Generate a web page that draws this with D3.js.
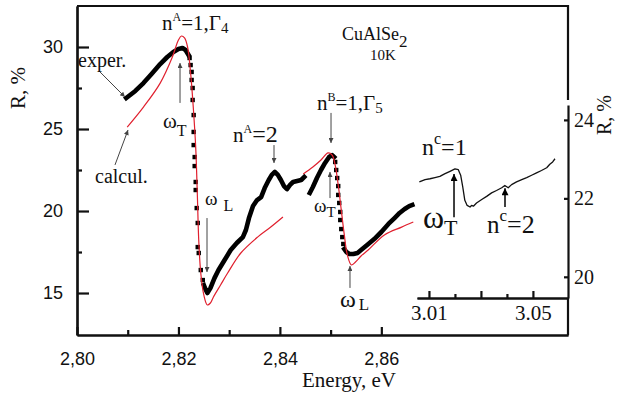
<!DOCTYPE html>
<html>
<head>
<meta charset="utf-8">
<script src="https://cdn.jsdelivr.net/npm/d3@7"></script>
<style>
	body { margin: 0; background: #fff; }
	svg { display: block; }
	.serif { font-family: 'Liberation Serif', 'Times New Roman', serif; fill: #111; }
	.sans { font-family: 'Liberation Sans', Arial, sans-serif; fill: #111; }
</style>
</head>
<body>
<div id="chart"></div>
<script>
// Experimental reflectance, [energy eV, R %]
const expRise = [[2.8097, 26.89], [2.8115, 27.32], [2.8131, 27.8], [2.8147, 28.35], [2.8164, 28.96], [2.8178, 29.39],
	[2.819, 29.7], [2.82, 29.88], [2.8208, 29.94], [2.8214, 29.82], [2.822, 29.51]];
const expDrop1 = [[2.8222, 29.33], [2.8224, 28.9], [2.8226, 28.48], [2.8226, 27.99], [2.8228, 27.5], [2.8228, 26.77],
	[2.823, 25.85], [2.823, 24.82], [2.823, 24.02], [2.8232, 23.29], [2.8232, 22.74], [2.8234, 21.77], [2.8234, 21.28],
	[2.8236, 20.18], [2.8238, 19.27], [2.8238, 17.8], [2.824, 17.44], [2.8244, 16.4], [2.8248, 15.79]];
const expMid = [[2.825, 15.49], [2.8254, 15.18], [2.8257, 15.0], [2.8263, 15.3], [2.8271, 15.91], [2.8279, 16.4],
	[2.8291, 17.01], [2.8303, 17.62], [2.8315, 18.05], [2.8327, 18.41], [2.8333, 18.84], [2.8339, 19.57], [2.8347, 20.3],
	[2.8355, 20.67], [2.8363, 20.85], [2.837, 21.4], [2.8378, 21.89], [2.8384, 22.2], [2.839, 22.38], [2.8396, 22.2],
	[2.8402, 21.89], [2.8408, 21.52], [2.8414, 21.34], [2.842, 21.59], [2.8426, 21.77], [2.8434, 21.83], [2.8442, 21.89],
	[2.8448, 22.07]];
const expRise2 = [[2.8459, 21.1], [2.8465, 21.46], [2.8473, 22.01], [2.8481, 22.5], [2.8489, 22.93], [2.8497, 23.29],
	[2.8503, 23.41], [2.8507, 23.29]];
const expDrop2 = [[2.8509, 22.99], [2.8511, 22.5], [2.8513, 22.01], [2.8515, 21.52], [2.8515, 20.98], [2.8517, 20.49],
	[2.8519, 19.94], [2.8519, 19.45], [2.8521, 18.9], [2.8523, 18.41], [2.8525, 17.99]];
const expTail = [[2.8527, 17.68], [2.8531, 17.5], [2.8537, 17.38], [2.8545, 17.38], [2.8553, 17.44], [2.856, 17.62],
	[2.8572, 17.93], [2.8586, 18.29], [2.86, 18.72], [2.8614, 19.21], [2.8626, 19.57], [2.8636, 19.88], [2.8646, 20.12],
	[2.8655, 20.3], [2.8661, 20.37]];

// Calculated reflectance
const calcA = [[2.8099, 25.12], [2.8131, 26.34], [2.8164, 27.8], [2.8188, 29.39], [2.82, 30.43], [2.8206, 30.67],
	[2.8212, 30.55], [2.8218, 30.0], [2.8224, 28.41], [2.823, 25.98], [2.8234, 23.9], [2.8237, 21.28], [2.824, 18.23],
	[2.8244, 16.22], [2.825, 14.88], [2.8257, 14.27], [2.8263, 14.39], [2.8269, 14.76], [2.8283, 15.49], [2.8297, 16.22],
	[2.8323, 17.44], [2.8356, 18.41], [2.8382, 19.02], [2.8406, 19.63]];
const calcB = [[2.8446, 22.26], [2.8465, 22.68], [2.8481, 23.11], [2.8495, 23.54], [2.8503, 23.41], [2.8509, 22.8],
	[2.8515, 21.59], [2.8521, 20.06], [2.8527, 18.54], [2.8533, 17.32], [2.8541, 16.71], [2.8549, 16.89], [2.856, 17.26],
	[2.8574, 17.62], [2.8606, 18.54], [2.864, 19.02], [2.8663, 19.33]];

// Inset (n^C region)
const insetCurve = [[3.0063, 22.42], [3.0085, 22.48], [3.0104, 22.5], [3.0123, 22.53], [3.0142, 22.56], [3.0162, 22.63],
	[3.0181, 22.69], [3.02, 22.75], [3.0213, 22.73], [3.0222, 22.59], [3.023, 22.29], [3.0238, 21.95], [3.0247, 21.82],
	[3.0258, 21.78], [3.0264, 21.82], [3.0271, 21.8], [3.0283, 21.88], [3.0303, 21.97], [3.0322, 22.05], [3.0341, 22.14],
	[3.036, 22.2], [3.038, 22.27], [3.0392, 22.33], [3.0405, 22.27], [3.0418, 22.35], [3.0437, 22.42], [3.0457, 22.48],
	[3.0476, 22.53], [3.0495, 22.59], [3.0514, 22.65], [3.0533, 22.71], [3.0553, 22.78], [3.0565, 22.87], [3.0576, 22.93],
	[3.0585, 23.01]];

// Ticks
const mainXTicks = [2.80, 2.82, 2.84, 2.86];
const mainXMinor = [2.81, 2.83, 2.85];
const mainYTicks = [15, 20, 25, 30];
const mainYMinor = [17.5, 22.5, 27.5];
const insetXTicks = [3.01, 3.03, 3.05];
const insetXLabels = ['3.01', '', '3.05'];
const insetXMinor = [3.02, 3.04];
const insetYTicks = [20, 22, 24];

// Arrows [x1, y1, x2, y2] in data units, head at second point
const mainArrows = [
	[2.80453, 28.48, 2.80946, 26.95], // exper.
	[2.80749, 22.81, 2.81006, 24.94], // calcul.
	[2.82031, 26.59, 2.82031, 29.02], // wT
	[2.82563, 19.57, 2.82563, 16.28], // wL
	[2.83884, 24.02, 2.83884, 22.93], // nA=2
	[2.85008, 25.98, 2.85008, 24.15], // nB=1
	[2.84988, 20.79, 2.84988, 22.38], // wT
	[2.85382, 15.31, 2.85382, 16.65] // wL
];
const insetArrows = [
	[3.01964, 21.52, 3.01964, 22.62],
	[3.03926, 21.78, 3.03926, 22.26]
];

const W = 621, H = 397;
const svg = d3.select('#chart').append('svg').attr('width', W).attr('height', H);

// Scales
const x = d3.scaleLinear().domain([2.8, 2.8968]).range([77, 568]);
const y = d3.scaleLinear().domain([12.44, 32.5]).range([335, 6]);
const xi = d3.scaleLinear().domain([3.0054, 3.0635]).range([417, 568]);
const yi = d3.scaleLinear().domain([19.46, 24.38]).range([298, 105]);

const comma = d3.formatLocale({ decimal: ',', thousands: '.', grouping: [3], currency: ['', ''] }).format('.2f');

const styleAxis = (g, font, size) => {
	g.selectAll('path,line').attr('stroke', '#111').attr('stroke-width', 2.2);
	g.selectAll('text').attr('font-family', font).attr('font-size', size).attr('fill', '#111');
};
const sansF = "'Liberation Sans', Arial, sans-serif";
const serifF = "'Liberation Serif', 'Times New Roman', serif";

// Main axes
const bottom = y.range()[0];
svg.append('g').attr('transform', 'translate(0,' + bottom + ')')
	.call(d3.axisBottom(x).tickValues(mainXTicks).tickSizeInner(-8).tickSizeOuter(0).tickPadding(17).tickFormat(comma))
	.call(g => styleAxis(g, sansF, 18));
svg.append('g').attr('transform', 'translate(0,' + bottom + ')')
	.call(d3.axisBottom(x).tickValues(mainXMinor).tickSizeInner(-5).tickSizeOuter(0).tickFormat(''))
	.call(g => styleAxis(g, sansF, 18));
svg.append('g').attr('transform', 'translate(' + x.range()[0] + ',0)')
	.call(d3.axisLeft(y).tickValues(mainYTicks).tickSizeInner(-12).tickSizeOuter(0).tickPadding(14))
	.call(g => styleAxis(g, sansF, 18));
svg.append('g').attr('transform', 'translate(' + x.range()[0] + ',0)')
	.call(d3.axisLeft(y).tickValues(mainYMinor).tickSizeInner(-5).tickSizeOuter(0).tickFormat(''))
	.call(g => styleAxis(g, sansF, 18));

// Frame top + right stub
svg.append('path')
	.attr('d', 'M' + x.range()[0] + ',' + y.range()[1] + 'H' + x.range()[1] + 'V' + (yi.range()[1] - 5))
	.attr('fill', 'none').attr('stroke', '#111').attr('stroke-width', 2.2);

// Inset axes
svg.append('g').attr('transform', 'translate(0,' + yi.range()[0] + ')')
	.call(d3.axisBottom(xi).tickValues(insetXTicks).tickSizeInner(-7).tickSizeOuter(0).tickPadding(7)
		.tickFormat((d, i) => insetXLabels[i]))
	.call(g => styleAxis(g, serifF, 21));
svg.append('g').attr('transform', 'translate(0,' + yi.range()[0] + ')')
	.call(d3.axisBottom(xi).tickValues(insetXMinor).tickSizeInner(-4).tickSizeOuter(0).tickFormat(''))
	.call(g => styleAxis(g, serifF, 21));
svg.append('g').attr('transform', 'translate(' + xi.range()[1] + ',0)')
	.call(d3.axisRight(yi).tickValues(insetYTicks).tickSizeInner(-4).tickSizeOuter(0).tickPadding(6)
		.tickFormat(d3.format('d')))
	.call(g => styleAxis(g, serifF, 20));
svg.append('line')
	.attr('x1', xi.range()[1]).attr('x2', xi.range()[1])
	.attr('y1', yi.range()[0]).attr('y2', bottom)
	.attr('stroke', '#111').attr('stroke-width', 2.2);

// Axis titles
svg.append('text').attr('class', 'serif').attr('font-size', 21)
	.attr('x', 349).attr('y', 387).attr('text-anchor', 'middle').text('Energy, eV');
svg.append('text').attr('class', 'serif').attr('font-size', 21)
	.attr('text-anchor', 'middle').attr('transform', 'translate(25,88) rotate(-90)').text('R, %');
svg.append('text').attr('class', 'serif').attr('font-size', 20)
	.attr('text-anchor', 'middle').attr('transform', 'translate(611,115) rotate(-90)').text('R, %');

// Curves
const line = d3.line().x(d => x(d[0])).y(d => y(d[1]));
const smooth = d3.line().x(d => x(d[0])).y(d => y(d[1])).curve(d3.curveCatmullRom.alpha(0.5));
const chartdata = svg.append('g').attr('class', 'chart-data');

[expRise, expMid, expRise2, expTail].forEach(seg => {
	chartdata.append('path').datum(seg).attr('d', line)
		.attr('fill', 'none').attr('stroke', '#000').attr('stroke-width', 4.6)
		.attr('stroke-linejoin', 'round').attr('stroke-linecap', 'square');
});
[expDrop1, expDrop2].forEach(seg => {
	chartdata.selectAll(null).data(seg).enter().append('rect')
		.attr('x', d => x(d[0]) - 2.2).attr('y', d => y(d[1]) - 2.2)
		.attr('width', 4.4).attr('height', 4.4).attr('fill', '#000');
});
[calcA, calcB].forEach(seg => {
	chartdata.append('path').datum(seg).attr('d', smooth)
		.attr('fill', 'none').attr('stroke', '#e0202e').attr('stroke-width', 1.2);
});

// Inset curve
chartdata.append('path').datum(insetCurve)
	.attr('d', d3.line().x(d => xi(d[0])).y(d => yi(d[1])))
	.attr('fill', 'none').attr('stroke', '#111').attr('stroke-width', 1.3).attr('stroke-linejoin', 'round');

// Arrow markers
const defs = svg.append('defs');
const marker = (id, color, w, h) => {
	defs.append('marker').attr('id', id).attr('viewBox', '0 0 10 10').attr('refX', 10).attr('refY', 5)
		.attr('markerWidth', w).attr('markerHeight', h).attr('markerUnits', 'userSpaceOnUse').attr('orient', 'auto')
		.append('path').attr('d', 'M0,0L10,5L0,10Z').attr('fill', color);
};
marker('headGrey', '#444', 7, 5);
marker('headBlack', '#000', 10, 7);

svg.selectAll('.arrow-main').data(mainArrows).enter().append('line').attr('class', 'arrow-main')
	.attr('x1', d => x(d[0])).attr('y1', d => y(d[1])).attr('x2', d => x(d[2])).attr('y2', d => y(d[3]))
	.attr('stroke', '#444').attr('stroke-width', 1).attr('marker-end', 'url(#headGrey)');
svg.selectAll('.arrow-inset').data(insetArrows).enter().append('line').attr('class', 'arrow-inset')
	.attr('x1', d => xi(d[0])).attr('y1', d => yi(d[1])).attr('x2', d => xi(d[2])).attr('y2', d => yi(d[3]))
	.attr('stroke', '#000').attr('stroke-width', 1.5).attr('marker-end', 'url(#headBlack)');

// Labels: parts [text, size, dy, dx]
const label = (px, py, parts) => {
	const t = svg.append('text').attr('class', 'serif').attr('x', px).attr('y', py);
	parts.forEach(p => {
		t.append('tspan').attr('font-size', p[1]).attr('dy', p[2] || 0).attr('dx', p[3] || 0).text(p[0]);
	});
};
label(x(2.8002), y(28.78), [['exper.', 20]]);
label(x(2.80355), y(21.71), [['calcul.', 20]]);
label(x(2.81676), y(31.04), [['n', 21], ['A', 12, -9], ['=1,Γ', 21, 9], ['4', 15, 3]]);
label(x(2.81696), y(25.06), [['ω', 21], ['T', 16, 8]]);
label(x(2.82524), y(20.37), [['ω', 19], ['L', 16, 6, 6]]);
label(x(2.83076), y(24.21), [['n', 21], ['A', 12, -9], ['=2', 24, 9]]);
label(x(2.84732), y(26.16), [['n', 21], ['B', 12, -9], ['=1,Γ', 21, 9], ['5', 15, 3]]);
label(x(2.84673), y(19.94), [['ω', 19], ['T', 15, 5]]);
label(x(2.85185), y(14.15), [['ω', 24], ['L', 17, 3, 3]]);
label(x(2.85225), y(30.43), [['CuAlSe', 18], ['2', 17, 7]]);
label(x(2.85777), y(29.21), [['10K', 15]]);

label(xi(3.00732), yi(23.105), [['n', 24], ['c', 16, -11], ['=1', 24, 11]]);
label(xi(3.00771), yi(21.24), [['ω', 32], ['T', 22, 7]]);
label(xi(3.03233), yi(21.12), [['n', 25], ['c', 17, -12], ['=2', 26, 12]]);
</script>
</body>
</html>
